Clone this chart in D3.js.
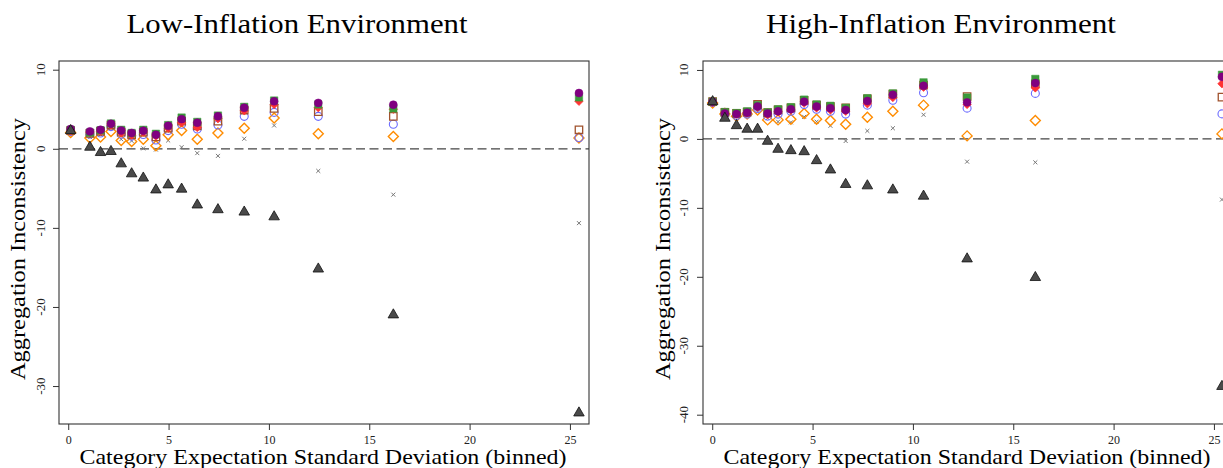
<!DOCTYPE html>
<html>
<head>
<meta charset="utf-8">
<script src="https://cdn.jsdelivr.net/npm/d3@7"></script>
<style>
  body { margin: 0; background: #fff; }
  svg { display: block; font-family: "Liberation Serif", "DejaVu Serif", serif; }
</style>
</head>
<body>
<svg id="chart" width="1223" height="468"></svg>
<script>
// Bin centres (category expectation std. dev.)
const lowX = [0.12, 1.08, 1.61, 2.13, 2.64, 3.16, 3.74, 4.37, 4.98, 5.65, 6.43, 7.46, 8.77, 10.26, 12.46, 16.2, 25.45];
const highX = [0.02, 0.63, 1.21, 1.74, 2.26, 2.76, 3.28, 3.92, 4.58, 5.2, 5.89, 6.65, 7.73, 9.0, 10.53, 12.7, 16.1, 25.4];

// Low-inflation series
const lowTriangle = [2.3, 0.2, -0.47, -0.34, -1.9, -3.16, -3.7, -5.2, -4.56, -5.1, -7.1, -7.7, -8.0, -8.6, -15.2, -21.0, -33.4];
const lowCross = [2.3, 1.5, 1.8, 2.6, 1.2, 1.0, 0.05, -0.1, 1.05, 0.2, -0.55, -0.9, 1.27, 2.95, -2.8, -5.8, -9.4];
const lowOrange = [2.06, 1.35, 1.5, 2.2, 1.05, 0.93, 1.2, 0.38, 1.77, 2.3, 1.2, 2.0, 2.6, 3.9, 1.9, 1.56, 1.35];
const lowBlue = [2.2, 1.85, 2.0, 2.8, 1.85, 1.6, 1.8, 1.1, 2.3, 3.1, 2.5, 3.0, 4.1, 4.6, 4.1, 3.1, 1.4];
const lowBrown = [2.3, 1.96, 2.2, 3.0, 2.1, 1.8, 2.1, 1.5, 2.6, 3.5, 2.9, 3.5, 4.9, 5.1, 4.7, 4.1, 2.4];
const lowRed = [2.3, 2.05, 2.2, 3.0, 2.0, 1.7, 2.1, 1.6, 2.6, 3.3, 2.7, 3.8, 4.8, 5.6, 5.2, 5.0, 6.0];
const lowGreen = [2.4, 2.05, 2.35, 3.2, 2.4, 2.0, 2.4, 1.9, 3.0, 3.95, 3.4, 4.2, 5.3, 6.1, 5.6, 5.1, 6.5];
const lowPurple = [2.5, 2.2, 2.4, 3.16, 2.3, 2.0, 2.28, 1.77, 2.9, 3.75, 3.3, 4.1, 5.2, 6.0, 5.8, 5.57, 7.05];

// High-inflation series
const highTriangle = [5.4, 3.0, 1.93, 1.41, 1.41, -0.34, -1.5, -1.7, -1.85, -3.15, -4.5, -6.6, -6.8, -7.4, -8.3, -17.4, -20.1, -35.9];
const highCross = [5.3, 3.4, 3.2, 3.3, 3.9, 3.0, 2.5, 2.4, 3.2, 2.5, 1.9, -0.3, 1.16, 1.55, 3.5, -3.3, -3.4, -8.8];
const highOrange = [5.2, 3.6, 3.3, 3.6, 4.2, 2.76, 2.76, 2.86, 3.7, 2.86, 2.66, 2.13, 3.15, 4.0, 4.9, 0.44, 2.66, 0.73];
const highBlue = [5.3, 3.5, 3.4, 3.6, 4.4, 3.3, 3.6, 4.0, 5.0, 4.3, 4.0, 3.6, 4.9, 5.6, 6.7, 4.46, 6.6, 3.63];
const highBrown = [5.4, 3.85, 3.7, 3.9, 5.0, 3.8, 4.2, 4.5, 5.6, 4.9, 4.7, 4.5, 5.8, 6.5, 7.8, 6.15, 8.0, 6.06];
const highRed = [5.3, 3.9, 3.6, 3.8, 4.6, 3.5, 3.9, 4.2, 5.2, 4.5, 4.2, 4.0, 5.1, 6.0, 7.5, 5.0, 7.4, 8.0];
const highGreen = [5.4, 3.9, 3.75, 4.0, 4.9, 3.85, 4.3, 4.6, 5.7, 5.0, 4.8, 4.5, 5.9, 6.6, 8.2, 6.0, 8.7, 9.3];
const highPurple = [5.4, 3.7, 3.6, 3.8, 4.7, 3.7, 4.0, 4.3, 5.4, 4.7, 4.46, 4.2, 5.5, 6.4, 7.7, 5.3, 8.1, 9.0];

// Tick labels
const xTicks = [0, 5, 10, 15, 20, 25];
const lowYTicks = [-30, -20, -10, 0, 10];
const highYTicks = [-40, -30, -20, -10, 0, 10];

const svg = d3.select('#chart');

// square turned 45 degrees (R's pch 5 / 18 look)
const squareDiamond = {
  draw: function (ctx, size) {
    const r = Math.sqrt(size / 2);
    ctx.moveTo(0, -r);
    ctx.lineTo(r, 0);
    ctx.lineTo(0, r);
    ctx.lineTo(-r, 0);
    ctx.closePath();
  }
};

// Marker styles, in drawing order
const markerStyles = [
  { key: 'cross', shape: d3.symbolX, size: 12, fill: 'none', stroke: '#777', sw: 1 },
  { key: 'orange', shape: squareDiamond, size: 50, fill: 'none', stroke: '#ff8c00', sw: 1.4 },
  { key: 'blue', shape: d3.symbolCircle, size: 50, fill: 'none', stroke: '#6b6bff', sw: 1.1 },
  { key: 'brown', shape: d3.symbolSquare, size: 55, fill: 'none', stroke: '#a0522d', sw: 1.3 },
  { key: 'red', shape: squareDiamond, size: 36, fill: '#ff3333', stroke: '#ff3333', sw: 0.6 },
  { key: 'green', shape: d3.symbolSquare, size: 55, fill: '#3a9a3a', stroke: '#3a9a3a', sw: 0.5 },
  { key: 'purple', shape: d3.symbolCircle, size: 50, fill: '#800080', stroke: '#800080', sw: 0.5 },
  { key: 'triangle', shape: d3.symbolTriangle, size: 48, fill: '#4a4a4a', stroke: '#111', sw: 0.8 }
];

function drawPanel(opts) {
  const { left, title, xs, series, yDomain, yTicks, yLabelX, yTickX } = opts;
  const top = 61, bottom = 424, width = 530;

  const x = d3.scaleLinear().domain([-0.46, 25.95]).range([left, left + width]);
  const y = d3.scaleLinear().domain(yDomain).range([bottom, top]);

  const g = svg.append('g');

  // Title
  g.append('text')
    .attr('x', left + width / 2 - 27)
    .attr('y', 33)
    .attr('text-anchor', 'middle')
    .attr('font-size', 27)
    .attr('textLength', title === 'Low-Inflation Environment' ? 341 : 350)
    .attr('lengthAdjust', 'spacingAndGlyphs')
    .text(title);

  // Zero reference line
  g.append('line')
    .attr('x1', left).attr('x2', left + width)
    .attr('y1', y(0)).attr('y2', y(0))
    .attr('stroke', '#444').attr('stroke-width', 1.2)
    .attr('stroke-dasharray', '9,4.5');

  // Points
  markerStyles.forEach(function (m) {
    const vals = series[m.key];
    g.selectAll('.pt-' + m.key)
      .data(vals)
      .enter()
      .append('path')
      .attr('class', 'pt-' + m.key)
      .attr('d', d3.symbol().type(m.shape).size(m.size))
      .attr('transform', function (d, i) {
        return 'translate(' + x(xs[i]) + ',' + y(d) + ')';
      })
      .attr('fill', m.fill)
      .attr('stroke', m.stroke)
      .attr('stroke-width', m.sw);
  });

  // Frame
  g.append('rect')
    .attr('x', left).attr('y', top)
    .attr('width', width).attr('height', bottom - top)
    .attr('fill', 'none').attr('stroke', '#333').attr('stroke-width', 1.1);

  // X axis
  const xAxis = g.append('g')
    .attr('transform', 'translate(0,' + bottom + ')')
    .call(d3.axisBottom(x).tickValues(xTicks).tickSize(6).tickPadding(5));
  xAxis.select('.domain').remove();
  xAxis.selectAll('line').attr('stroke', '#333');
  xAxis.selectAll('text')
    .attr('font-family', '"Liberation Serif", serif')
    .attr('font-size', 12).attr('fill', '#222');

  // Y axis (rotated labels)
  const yAxis = g.append('g')
    .attr('transform', 'translate(' + left + ',0)')
    .call(d3.axisLeft(y).tickValues(yTicks).tickSize(6));
  yAxis.select('.domain').remove();
  yAxis.selectAll('line').attr('stroke', '#333');
  yAxis.selectAll('text').remove();
  g.selectAll('.ytl')
    .data(yTicks)
    .enter()
    .append('text')
    .attr('transform', function (d) { return 'translate(' + yTickX + ',' + y(d) + ') rotate(-90)'; })
    .attr('text-anchor', 'middle')
    .attr('font-size', 13).attr('fill', '#222')
    .text(function (d) { return d; });

  // Axis titles
  g.append('text')
    .attr('transform', 'translate(' + yLabelX + ',249) rotate(-90)')
    .attr('text-anchor', 'middle')
    .attr('font-size', 21)
    .attr('textLength', 262)
    .attr('lengthAdjust', 'spacingAndGlyphs')
    .text('Aggregation Inconsistency');

  g.append('text')
    .attr('x', left + width / 2 - 1)
    .attr('y', 464)
    .attr('text-anchor', 'middle')
    .attr('font-size', 21)
    .attr('textLength', 487)
    .attr('lengthAdjust', 'spacingAndGlyphs')
    .text('Category Expectation Standard Deviation (binned)');
}

drawPanel({
  left: 59,
  title: 'Low-Inflation Environment',
  xs: lowX,
  series: { cross: lowCross, orange: lowOrange, blue: lowBlue, brown: lowBrown, red: lowRed, green: lowGreen, purple: lowPurple, triangle: lowTriangle },
  yDomain: [-34.8, 11.1],
  yTicks: lowYTicks,
  yLabelX: 25,
  yTickX: 45
});

drawPanel({
  left: 703,
  title: 'High-Inflation Environment',
  xs: highX,
  series: { cross: highCross, orange: highOrange, blue: highBlue, brown: highBrown, red: highRed, green: highGreen, purple: highPurple, triangle: highTriangle },
  yDomain: [-41.35, 11.3],
  yTicks: highYTicks,
  yLabelX: 670,
  yTickX: 688
});
</script>
</body>
</html>
